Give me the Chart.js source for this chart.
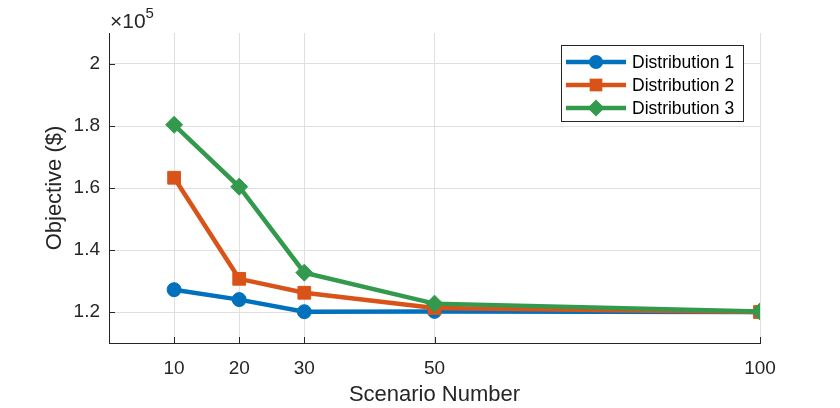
<!DOCTYPE html>
<html>
<head>
<meta charset="utf-8">
<script src="https://cdn.jsdelivr.net/npm/chart.js@4"></script>
<style>
  html, body { margin: 0; padding: 0; background: #fff; }
  canvas { display: block; }
</style>
</head>
<body>
<canvas id="chart" width="840" height="408"></canvas>
<script>
// scenario counts on the x axis
const scenarios = [10, 20, 30, 50, 100];
// objective values ($)
const dist1 = [127200, 124000, 120100, 120200, 120000];
const dist2 = [163300, 130700, 126200, 121300, 120000];
const dist3 = [180400, 160400, 132700, 122700, 120200];
const seriesNames = ['Distribution 1', 'Distribution 2', 'Distribution 3'];
const xTicks = [10, 20, 30, 50, 100];
const yTicks = [120000, 140000, 160000, 180000, 200000];

const BLUE = '#0072bd';
const ORANGE = '#d95319';
const GREEN = '#339a4d';
const INK = '#262626';
const FONT = "'Liberation Sans', Arial, sans-serif";

function toXY(values) {
    return values.map((v, i) => ({ x: scenarios[i], y: v }));
}

function markerPath(ctx, style, x, y, r) {
    ctx.beginPath();
    if (style === 'circle') {
        ctx.arc(x, y, r, 0, Math.PI * 2);
    } else if (style === 'rect') {
        const s = r * Math.SQRT1_2;
        ctx.rect(x - s, y - s, 2 * s, 2 * s);
    } else {
        ctx.moveTo(x - r, y);
        ctx.lineTo(x, y - r);
        ctx.lineTo(x + r, y);
        ctx.lineTo(x, y + r);
        ctx.closePath();
    }
}

// inward ticks, the x10^5 note and the boxed legend like the original
const decorPlugin = {
    id: 'decor',
    afterDraw(chart) {
        const ctx = chart.ctx;
        const xs = chart.scales.x;
        const ys = chart.scales.y;
        const area = chart.chartArea;
        ctx.save();
        ctx.strokeStyle = INK;
        ctx.lineWidth = 1;
        ctx.beginPath();
        xTicks.forEach(t => {
            const px = Math.round(xs.getPixelForValue(t)) + 0.5;
            ctx.moveTo(px, area.bottom);
            ctx.lineTo(px, area.bottom - 6);
        });
        yTicks.forEach(t => {
            const py = Math.round(ys.getPixelForValue(t)) + 0.5;
            ctx.moveTo(area.left, py);
            ctx.lineTo(area.left + 6, py);
        });
        ctx.stroke();

        // exponent label
        ctx.fillStyle = INK;
        ctx.textBaseline = 'alphabetic';
        ctx.textAlign = 'left';
        ctx.font = '21px ' + FONT;
        ctx.fillText('\u00d710', area.left + 1, 28);
        const w = ctx.measureText('\u00d710').width;
        ctx.font = '15px ' + FONT;
        ctx.fillText('5', area.left + 1 + w, 18);

        // legend
        const bx = 561, by = 45, bw = 182, bh = 76;
        ctx.fillStyle = '#fff';
        ctx.fillRect(bx, by, bw, bh);
        ctx.strokeStyle = INK;
        ctx.lineWidth = 1;
        ctx.strokeRect(bx + 0.5, by + 0.5, bw, bh);
        ctx.font = '17.5px ' + FONT;
        ctx.textBaseline = 'middle';
        chart.data.datasets.forEach((ds, i) => {
            const cy = 62 + i * 23;
            ctx.strokeStyle = ds.borderColor;
            ctx.lineWidth = ds.borderWidth;
            ctx.beginPath();
            ctx.moveTo(566, cy);
            ctx.lineTo(626, cy);
            ctx.stroke();
            ctx.fillStyle = ds.borderColor;
            markerPath(ctx, ds.pointStyle, 596, cy, ds.pointRadius);
            ctx.fill();
            ctx.fillStyle = '#000';
            ctx.fillText(ds.label, 632, cy + 1);
        });
        ctx.restore();
    }
};

const ctx = document.getElementById('chart').getContext('2d');
new Chart(ctx, {
    type: 'line',
    data: {
        datasets: [
            { label: seriesNames[0], data: toXY(dist1), borderColor: BLUE, backgroundColor: BLUE,
              pointStyle: 'circle', pointRadius: 7, order: 2 },
            { label: seriesNames[1], data: toXY(dist2), borderColor: ORANGE, backgroundColor: ORANGE,
              pointStyle: 'rect', pointRadius: 9, order: 1 },
            { label: seriesNames[2], data: toXY(dist3), borderColor: GREEN, backgroundColor: GREEN,
              pointStyle: 'rectRot', pointRadius: 8.5, order: 0 }
        ].map(ds => Object.assign(ds, {
            borderWidth: 4.5,
            pointBorderWidth: 1,
            pointBorderColor: ds.borderColor,
            pointBackgroundColor: ds.borderColor,
            pointHoverRadius: ds.pointRadius,
            tension: 0,
            fill: false
        }))
    },
    options: {
        responsive: false,
        animation: false,
        devicePixelRatio: 1,
        layout: { padding: { top: 33, right: 80, left: 0, bottom: 0 } },
        plugins: {
            legend: { display: false },
            tooltip: { enabled: false }
        },
        scales: {
            x: {
                type: 'linear',
                min: 0,
                max: 100,
                afterBuildTicks: s => { s.ticks = xTicks.map(v => ({ value: v })); },
                afterFit: s => { s.height = 65; },
                grid: { color: '#dfdfdf', lineWidth: 1, drawTicks: false },
                border: { display: true, color: INK, width: 1 },
                ticks: {
                    color: INK,
                    padding: 14,
                    maxRotation: 0,
                    font: { family: FONT, size: 19 },
                    callback: v => String(v)
                },
                title: {
                    display: true,
                    text: 'Scenario Number',
                    color: INK,
                    font: { family: FONT, size: 22 },
                    padding: { top: 0, bottom: 0 }
                }
            },
            y: {
                min: 110000,
                max: 210000,
                afterBuildTicks: s => { s.ticks = yTicks.map(v => ({ value: v })); },
                afterFit: s => { s.width = 109; },
                grid: { color: '#dfdfdf', lineWidth: 1, drawTicks: false },
                border: { display: true, color: INK, width: 1 },
                ticks: {
                    color: INK,
                    padding: 9,
                    font: { family: FONT, size: 19 },
                    callback: v => String(Math.round(v / 10000) / 10)
                },
                title: {
                    display: true,
                    text: 'Objective ($)',
                    color: INK,
                    font: { family: FONT, size: 22 },
                    padding: { top: 42, bottom: 0 }
                }
            }
        }
    },
    plugins: [decorPlugin]
});
</script>
</body>
</html>
